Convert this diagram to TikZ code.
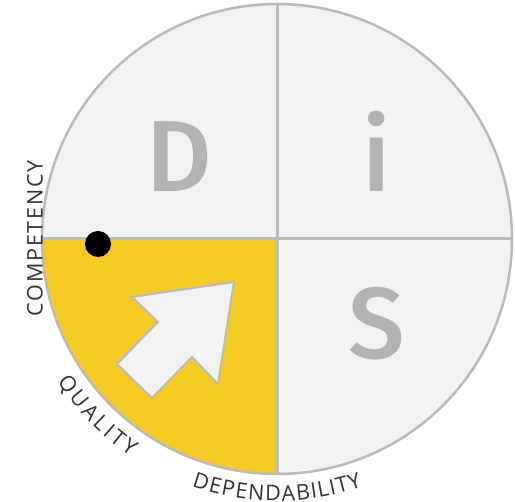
\documentclass[tikz,border=0pt]{standalone}
\usepackage{fontspec}
\setmainfont{Open Sans}
\newfontfamily\bigfont{Fira Sans}[UprightFont={* Medium}]
\newfontfamily\lblfont{Open Sans}
\usetikzlibrary{decorations.text}
\definecolor{quadgray}{HTML}{F1F1F1}
\definecolor{edgegray}{HTML}{BBBBBB}
\definecolor{lettergray}{HTML}{B3B3B3}
\definecolor{dyellow}{HTML}{F2CA22}
\definecolor{lblcol}{HTML}{333333}
\tikzset{
  rim/.style={draw=edgegray,line width=2.5pt},
  divider/.style={draw=edgegray,line width=3pt},
  arrowshape/.style={fill=quadgray,draw=edgegray,line width=2pt,line join=miter},
  bigletter/.style={text=lettergray,font=\bigfont\fontsize{101pt}{101pt}\selectfont,inner sep=0pt,anchor=base},
  curvedlabel/.style={decorate,decoration={text along path,text align={fit to path},text color=lblcol,
     text={|\lblfont\fontsize{21.5pt}{21.5pt}\selectfont|#1}}}
}
\begin{document}
\begin{tikzpicture}[x=1pt,y=1pt]
\useasboundingbox (0,0) rectangle (515,502);
\coordinate (c) at (277,263);
\fill[quadgray] (c) circle[radius=235pt];
\fill[dyellow] (c) -- ++(-235pt,0pt) arc[start angle=180,end angle=270,radius=235pt] -- cycle;
\draw[rim] (c) circle[radius=235pt];
\path[divider] (c) ++(-235pt,0pt) -- ++(470pt,0pt);
\path[divider] (c) ++(0pt,235pt) -- ++(0pt,-470pt);
% arrow
\draw[arrowshape] (234,220) -- (132,205) -- (158,180) -- (117,138) -- (152,104) -- (192,145) -- (218,118) -- cycle;
% dot
\fill[black] (98,258) circle[radius=13pt];
% letters
\node[bigletter] (d) at (179.5,310.3) {D};
\node[bigletter] (i) at (376.5,310.3) {i};
\node[bigletter] (s) at (377,143) {S};
% labels
\coordinate (cstart) at (42.5,185);
\coordinate (cend) at (42.5,342);
\path[curvedlabel=COMPETENCY] (cstart) -- (cend);
\path[curvedlabel=QUALITY] (c) ++(213:262pt) arc[start angle=213,end angle=236,radius=262pt];
\path[curvedlabel=DEPENDABILITY] (c) ++(251:262pt) arc[start angle=251,end angle=289,radius=262pt];
\end{tikzpicture}
\end{document}
